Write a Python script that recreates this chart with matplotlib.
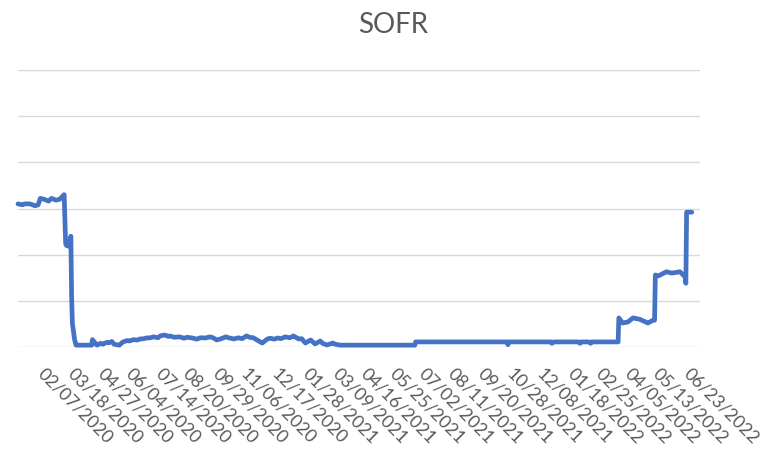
import matplotlib
matplotlib.use("Agg")
import matplotlib.pyplot as plt
import pandas as pd

dates = [
    "2019-12-31", "2020-01-06", "2020-01-09", "2020-01-16", "2020-01-23", "2020-01-27", "2020-01-30",
    "2020-02-04", "2020-02-10", "2020-02-14", "2020-02-20", "2020-02-25", "2020-03-02",
    "2020-03-04", "2020-03-05", "2020-03-09", "2020-03-11", "2020-03-12", "2020-03-13",
    "2020-03-16", "2020-03-18", "2020-03-20", "2020-04-08", "2020-04-09", "2020-04-13", "2020-04-15",
    "2020-04-20", "2020-04-23", "2020-04-28", "2020-05-01", "2020-05-05", "2020-05-08", "2020-05-15",
    "2020-05-20", "2020-05-26", "2020-05-29", "2020-06-03", "2020-06-08", "2020-06-12", "2020-06-17",
    "2020-06-22", "2020-06-25", "2020-06-30", "2020-07-06", "2020-07-09", "2020-07-15", "2020-07-20",
    "2020-07-22", "2020-07-28", "2020-08-04", "2020-08-10", "2020-08-14", "2020-08-21", "2020-08-27",
    "2020-09-01", "2020-09-08", "2020-09-14", "2020-09-18", "2020-09-23", "2020-09-29", "2020-10-05",
    "2020-10-09", "2020-10-16", "2020-10-22", "2020-10-27", "2020-11-02", "2020-11-06", "2020-11-11",
    "2020-11-16", "2020-11-23", "2020-11-30", "2020-12-04", "2020-12-09", "2020-12-14", "2020-12-18",
    "2020-12-24", "2020-12-30", "2021-01-04", "2021-01-07", "2021-01-11", "2021-01-15", "2021-01-20",
    "2021-01-27", "2021-02-02", "2021-02-09", "2021-02-12", "2021-02-18", "2021-02-26", "2021-03-01",
    "2021-03-08", "2021-06-16", "2021-06-17", "2021-10-18",
    "2021-10-19", "2021-10-20", "2021-12-16", "2021-12-17", "2021-12-20", "2022-01-21",
    "2022-01-24", "2022-01-25", "2022-02-04", "2022-02-07", "2022-02-08", "2022-03-16",
    "2022-03-17", "2022-03-22", "2022-03-29", "2022-04-05", "2022-04-14", "2022-04-25",
    "2022-05-02", "2022-05-04", "2022-05-05", "2022-05-09", "2022-05-20", "2022-05-27",
    "2022-06-07", "2022-06-14", "2022-06-15", "2022-06-16", "2022-06-23",
]
sofr = [
    1.55, 1.54, 1.55, 1.55, 1.53, 1.54, 1.61,
    1.60, 1.58, 1.61, 1.59, 1.60, 1.65,
    1.12, 1.10, 1.09, 1.20, 0.55, 0.26,
    0.08, 0.02, 0.02, 0.02, 0.08, 0.04, 0.02,
    0.04, 0.03, 0.05, 0.045, 0.06, 0.03, 0.02,
    0.055, 0.07, 0.065, 0.08, 0.075, 0.087, 0.09,
    0.10, 0.098, 0.11, 0.10, 0.12, 0.13, 0.115,
    0.12, 0.105, 0.11, 0.095, 0.105, 0.098, 0.085,
    0.10, 0.098, 0.11, 0.10, 0.076, 0.09, 0.11,
    0.10, 0.087, 0.10, 0.09, 0.12, 0.105, 0.10,
    0.076, 0.043, 0.087, 0.095, 0.085, 0.098, 0.09,
    0.11, 0.10, 0.12, 0.105, 0.087, 0.09, 0.043,
    0.076, 0.033, 0.065, 0.04, 0.022, 0.043, 0.03,
    0.02, 0.02, 0.055, 0.055,
    0.025, 0.055, 0.055, 0.04, 0.055, 0.055,
    0.04, 0.055, 0.055, 0.04, 0.055, 0.055,
    0.315, 0.26, 0.27, 0.315, 0.30, 0.26,
    0.29, 0.29, 0.78, 0.77, 0.815, 0.80,
    0.815, 0.76, 0.69, 1.46, 1.46,
]
tick_labels = [
    "02/07/2020", "03/18/2020", "04/27/2020", "06/04/2020", "07/14/2020", "08/20/2020",
    "09/29/2020", "11/06/2020", "12/17/2020", "01/28/2021", "03/09/2021", "04/16/2021",
    "05/25/2021", "07/02/2021", "08/11/2021", "09/20/2021", "10/28/2021", "12/08/2021",
    "01/18/2022", "02/25/2022", "04/05/2022", "05/13/2022", "06/23/2022",
]
y_grid = [0, 0.5, 1.0, 1.5, 2.0, 2.5, 3.0]

x = pd.to_datetime(dates)
ticks = pd.to_datetime(tick_labels, format="%m/%d/%Y")

fig = plt.figure(figsize=(7.67, 4.57), dpi=100)
ax = fig.add_axes([18/767, 1 - 347/457, (700 - 18)/767, (347 - 70)/457])

ax.plot(x, sofr, color="#4472C4", lw=3.4, solid_joinstyle="round",
        solid_capstyle="round", clip_on=False, zorder=3)

ax.set_ylim(0, 3)
ax.set_yticks(y_grid)
ax.yaxis.grid(True, color="#D9D9D9", lw=1.0)
ax.tick_params(axis="y", length=0, labelleft=False)
ax.set_xlim(x[0], x[-1] + pd.Timedelta(days=11))
ax.set_xticks(ticks)
ax.set_xticklabels(tick_labels, rotation=-45, ha="left", va="top",
                   rotation_mode="anchor", family="Lato", fontsize=12.8,
                   color="#595959")
ax.tick_params(axis="x", length=0, pad=13)
for s in ax.spines.values():
    s.set_visible(False)

fig.text(393/767, 1 - 25/457, "SOFR", ha="center", va="center",
         family="Lato", fontsize=20, color="#595959")

fig.savefig("out.png", dpi=100, facecolor="white")
